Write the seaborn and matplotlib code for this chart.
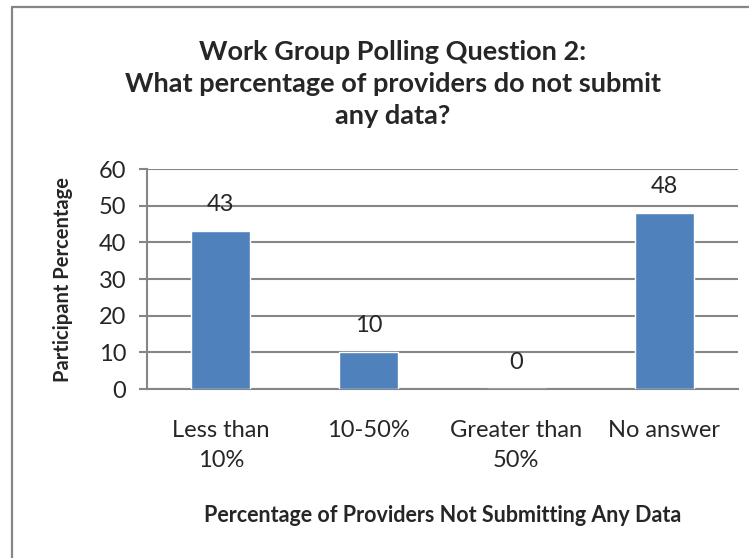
import matplotlib.pyplot as plt
import seaborn as sns
import pandas as pd
from matplotlib.lines import Line2D

# chart data
categories = ["Less than\n10%", "10-50%", "Greater than\n50%", "No answer"]
values = [43, 10, 0, 48]
y_ticks = [0, 10, 20, 30, 40, 50, 60]

title = "Work Group Polling Question 2:\nWhat percentage of providers do not submit\nany data?"
xlabel = "Percentage of Providers Not Submitting Any Data"
ylabel = "Participant Percentage"

bar_color = "#4F81BD"
grid_color = "#868686"

sns.set_style("white")
plt.rcParams["font.family"] = ["Lato", "DejaVu Sans"]

df = pd.DataFrame({"category": categories, "value": values})

fig = plt.figure(figsize=(7.49, 5.58), dpi=100)
ax = fig.add_axes([147 / 749, 1 - 389 / 558, (738 - 147) / 749, (389 - 169) / 558])

sns.barplot(data=df, x="category", y="value", color=bar_color, saturation=1,
            width=0.4, ax=ax, zorder=3)

ax.set_xlim(-0.5, len(categories) - 0.5)
ax.set_ylim(0, 60)
ax.set_yticks(y_ticks)
ax.yaxis.grid(True, color=grid_color, linewidth=1.5, zorder=0)
ax.set_axisbelow(True)

for side in ["top", "right"]:
    ax.spines[side].set_visible(False)
for side in ["left", "bottom"]:
    ax.spines[side].set_color(grid_color)
    ax.spines[side].set_linewidth(1.5)

ax.tick_params(axis="y", direction="out", length=6, width=1.5, color=grid_color,
               labelsize=17, pad=9, left=True)
ax.tick_params(axis="x", length=0, labelsize=17, pad=22)
for lab in ax.get_xticklabels():
    lab.set_linespacing(1.55)

ax.set_xlabel("")
ax.set_ylabel("")

# value labels above bars
for i, v in enumerate(values):
    ax.annotate(str(v), (i, v), xytext=(0, 19), textcoords="offset points",
                ha="center", va="center", fontsize=17)

fig.text(63 / 749, 1 - 279 / 558, ylabel, ha="center", va="center", rotation=90,
         fontsize=14.5, fontweight="bold")
fig.text(443 / 749, 1 - 515 / 558, xlabel, ha="center", va="center",
         fontsize=15.5, fontweight="bold")
fig.text(393 / 749, 1 - 40 / 558, title, ha="center", va="top",
         fontsize=19.5, fontweight="bold", linespacing=1.4)

# chart area border (cropped on right and bottom)
fig.add_artist(Line2D([11.5 / 749, 1], [1 - 7 / 558, 1 - 7 / 558], color=grid_color,
                      linewidth=1.6, transform=fig.transFigure))
fig.add_artist(Line2D([11.5 / 749, 11.5 / 749], [0, 1 - 7 / 558], color=grid_color,
                      linewidth=1.6, transform=fig.transFigure))

fig.savefig("out.png", dpi=100)
